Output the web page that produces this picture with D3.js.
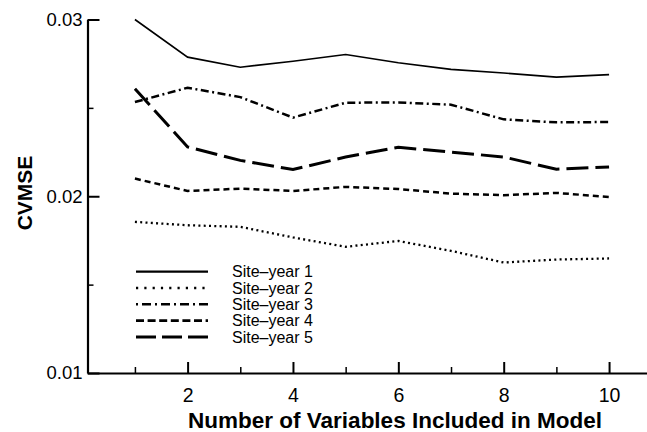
<!DOCTYPE html>
<html>
<head>
<meta charset="utf-8">
<script src="https://cdn.jsdelivr.net/npm/d3@7"></script>
<style>
  body { margin: 0; background: #fff; }
  svg { display: block; font-family: "Liberation Sans", Arial, Helvetica, sans-serif; }
</style>
</head>
<body>
<div id="chart"></div>
<script>
// Data
const variables = [1, 2, 3, 4, 5, 6, 7, 8, 9, 10];
const siteYear1 = [0.0300, 0.02787, 0.0273, 0.02764, 0.02802, 0.02755, 0.02718, 0.02697, 0.02674, 0.02688];
const siteYear2 = [0.01855, 0.01836, 0.01827, 0.01767, 0.01714, 0.01747, 0.01691, 0.01625, 0.01642, 0.01648];
const siteYear3 = [0.02533, 0.02614, 0.02561, 0.02445, 0.02529, 0.02531, 0.02518, 0.02435, 0.02418, 0.0242];
const siteYear4 = [0.0210, 0.0203, 0.02043, 0.0203, 0.02053, 0.02041, 0.02015, 0.02006, 0.02019, 0.01996];
const siteYear5 = [0.02608, 0.02279, 0.02203, 0.02151, 0.02222, 0.02277, 0.0225, 0.02222, 0.02153, 0.02166];
const seriesNames = ["Site\u2013year 1", "Site\u2013year 2", "Site\u2013year 3", "Site\u2013year 4", "Site\u2013year 5"];
const xMajorTicks = [2, 4, 6, 8, 10];
const xMinorTicks = [1, 3, 5, 7, 9];
const yMajorTicks = [0.01, 0.02, 0.03];
const yMinorTicks = [0.015, 0.025];

const width = 647, height = 432;

// line styles for plot and legend (plot dash, legend dash)
const styles = [
  { w: 1.6, dash: null,          lw: 2.2, ldash: null },
  { w: 2.3, dash: "2,3.3",       lw: 2.4, ldash: "2.2,6.1" },
  { w: 2.5, dash: "8,3.5,2,3.5", lw: 2.4, ldash: "2,4,9,4" },
  { w: 2.5, dash: "6,4",         lw: 2.6, ldash: "8,3.6" },
  { w: 3,   dash: "22,7",        lw: 3,   ldash: "20,6" }
];

const allSeries = [siteYear1, siteYear2, siteYear3, siteYear4, siteYear5];

const svg = d3.select("#chart").append("svg")
  .attr("width", width)
  .attr("height", height);

const x = d3.scaleLinear().domain([0.1, 10.72]).range([87.5, 647]);
const y = d3.scaleLinear().domain([0.01, 0.03]).range([373, 19.5]);

// Series lines
const line = d3.line()
  .x((d, i) => x(variables[i]))
  .y(d => y(d));

svg.selectAll(".series")
  .data(allSeries)
  .enter()
  .append("path")
  .attr("class", "series")
  .attr("d", d => line(d))
  .attr("fill", "none")
  .attr("stroke", "#000")
  .attr("stroke-width", (d, i) => styles[i].w)
  .attr("stroke-dasharray", (d, i) => styles[i].dash);

// X axis - major ticks with labels
const xAxis = svg.append("g")
  .attr("transform", `translate(0, ${y(0.01)})`)
  .call(d3.axisBottom(x).tickValues(xMajorTicks).tickSizeInner(-11).tickSizeOuter(0).tickPadding(15));
xAxis.select(".domain").attr("stroke-width", 2.2);
xAxis.selectAll(".tick line").attr("stroke-width", 2);
xAxis.selectAll(".tick text")
  .attr("font-size", "19.5px")
  .attr("font-family", "Liberation Sans, Arial, sans-serif")
  .attr("fill", "#000");

// X axis - minor ticks
const xMinor = svg.append("g")
  .attr("transform", `translate(0, ${y(0.01)})`)
  .call(d3.axisBottom(x).tickValues(xMinorTicks).tickSizeInner(-6).tickSizeOuter(0).tickFormat(""));
xMinor.select(".domain").remove();
xMinor.selectAll(".tick line").attr("stroke-width", 1.5);

// Y axis - major ticks with labels
const yAxis = svg.append("g")
  .attr("transform", `translate(${x(0.1)}, 0)`)
  .call(d3.axisLeft(y).tickValues(yMajorTicks).tickSizeInner(-12).tickSizeOuter(0).tickPadding(5).tickFormat(d3.format(".2f")));
yAxis.select(".domain").attr("stroke-width", 2.2);
yAxis.selectAll(".tick line").attr("stroke-width", 2);
yAxis.selectAll(".tick text")
  .attr("font-size", "18.5px")
  .attr("font-family", "Liberation Sans, Arial, sans-serif")
  .attr("fill", "#000");

// Y axis - minor ticks
const yMinor = svg.append("g")
  .attr("transform", `translate(${x(0.1)}, 0)`)
  .call(d3.axisLeft(y).tickValues(yMinorTicks).tickSizeInner(-6).tickSizeOuter(0).tickFormat(""));
yMinor.select(".domain").remove();
yMinor.selectAll(".tick line").attr("stroke-width", 1.5);

// Axis titles
svg.append("text")
  .attr("x", 395)
  .attr("y", 427.5)
  .attr("text-anchor", "middle")
  .attr("font-size", "22.5px")
  .attr("font-weight", "bold")
  .text("Number of Variables Included in Model");

svg.append("text")
  .attr("transform", "translate(32, 193) rotate(-90)")
  .attr("text-anchor", "middle")
  .attr("font-size", "21px")
  .attr("font-weight", "bold")
  .text("CVMSE");

// Legend
const legend = svg.append("g").attr("class", "legend");
const legendRows = legend.selectAll(".row")
  .data(seriesNames)
  .enter()
  .append("g")
  .attr("class", "row")
  .attr("transform", (d, i) => `translate(0, ${271.6 + i * 16.35})`);

legendRows.append("line")
  .attr("x1", 136)
  .attr("x2", 208)
  .attr("stroke", "#000")
  .attr("stroke-width", (d, i) => styles[i].lw)
  .attr("stroke-dasharray", (d, i) => styles[i].ldash);

legendRows.append("text")
  .attr("x", 232)
  .attr("y", 5.6)
  .attr("font-size", "16px")
  .text(d => d);
</script>
</body>
</html>
